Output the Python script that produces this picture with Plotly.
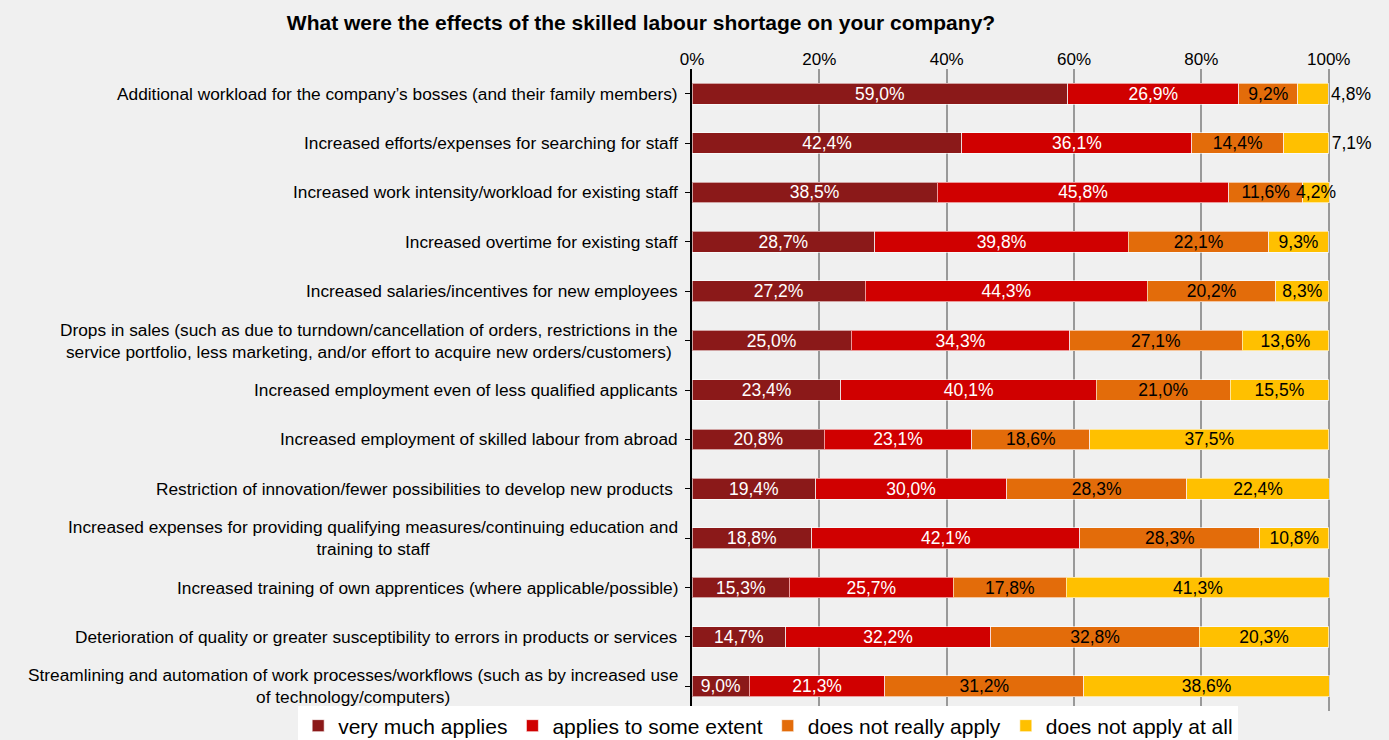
import plotly.graph_objects as go

categories = [
    "Additional workload for the company\u2019s bosses (and their family members)",
    "Increased efforts/expenses for searching for staff",
    "Increased work intensity/workload for existing staff",
    "Increased overtime for existing staff",
    "Increased salaries/incentives for new employees",
    "Drops in sales (such as due to turndown/cancellation of orders, restrictions in the<br>service portfolio, less marketing, and/or effort to acquire new orders/customers)",
    "Increased employment even of less qualified applicants",
    "Increased employment of skilled labour from abroad",
    "Restriction of innovation/fewer possibilities to develop new products ",
    "Increased expenses for providing qualifying measures/continuing education and<br>training to staff",
    "Increased training of own apprentices (where applicable/possible)",
    "Deterioration of quality or greater susceptibility to errors in products or services",
    "Streamlining and automation of work processes/workflows (such as by increased use<br>of technology/computers)",
]

very_much = [59.0, 42.4, 38.5, 28.7, 27.2, 25.0, 23.4, 20.8, 19.4, 18.8, 15.3, 14.7, 9.0]
some_extent = [26.9, 36.1, 45.8, 39.8, 44.3, 34.3, 40.1, 23.1, 30.0, 42.1, 25.7, 32.2, 21.3]
not_really = [9.2, 14.4, 11.6, 22.1, 20.2, 27.1, 21.0, 18.6, 28.3, 28.3, 17.8, 32.8, 31.2]
not_at_all = [4.8, 7.1, 4.2, 9.3, 8.3, 13.6, 15.5, 37.5, 22.4, 10.8, 41.3, 20.3, 38.6]

series_names = ["very much applies", "applies to some extent", "does not really apply", "does not apply at all"]
series_values = [very_much, some_extent, not_really, not_at_all]
colors = ["#8B1919", "#D00000", "#E36C0A", "#FFC000"]
text_colors = ["white", "white", "black", "black"]

tick_values = [0, 20, 40, 60, 80, 100]
tick_labels = ["0%", "20%", "40%", "60%", "80%", "100%"]

FONT = "Liberation Sans, Arial, sans-serif"
X_MAX = 100.2

fig = go.Figure()
ids = list(range(len(categories)))
for k, (name, vals, col, tcol) in enumerate(zip(series_names, series_values, colors, text_colors)):
    if k == len(series_names) - 1:
        tpos = ["outside" if i < 2 else "inside" for i, v in enumerate(vals)]
    else:
        tpos = "inside"
    fig.add_trace(go.Bar(
        y=ids, x=vals, name=name, orientation="h",
        marker=dict(color=col, line=dict(color="rgba(255,255,255,0.6)", width=1)),
        width=0.42,
        texttemplate="%{x:.1f}%", textposition=tpos, insidetextanchor="middle",
        textangle=0, constraintext="none", cliponaxis=False,
        textfont=dict(color=tcol, size=17.5, family=FONT),
        hoverinfo="skip",
    ))

for i, c in enumerate(categories):
    fig.add_annotation(
        x=0, xref="paper", y=i, yref="y", text=c, showarrow=False,
        xanchor="right", align="center", xshift=-12,
        font=dict(size=17.3, color="#000000", family=FONT),
    )

plot_left = 692
plot_w = 637 * X_MAX / 100
plot_top, plot_bottom = 69, 711
plot_h = plot_bottom - plot_top

fig.update_layout(
    barmode="stack",
    width=1389, height=740,
    margin=dict(l=plot_left, r=1389 - plot_left - plot_w, t=plot_top, b=740 - plot_bottom, autoexpand=False),
    paper_bgcolor="#F0F0F0", plot_bgcolor="#F0F0F0",
    separators=",.",
    title=dict(text="<b>What were the effects of the skilled labour shortage on your company?</b>",
               x=641 / 1389, xanchor="center", xref="container", y=0.970, yanchor="middle", yref="container",
               font=dict(size=21, color="#000000", family=FONT)),
    font=dict(family=FONT, color="#000000"),
    legend=dict(orientation="h", xref="paper", yref="paper",
                x=(298 - plot_left) / plot_w, xanchor="left",
                y=-(726 - plot_bottom) / plot_h, yanchor="middle",
                bgcolor="#FFFFFF", font=dict(size=21, family=FONT, color="#000000"),
                itemwidth=30, tracegroupgap=0, traceorder="normal"),
    showlegend=True,
)
fig.update_xaxes(side="top", range=[0, X_MAX], tickmode="array", tickvals=tick_values, ticktext=tick_labels,
                 showgrid=True, gridcolor="#999999", gridwidth=1.5,
                 zeroline=False, showline=False, ticks="",
                 tickfont=dict(size=17, family=FONT, color="#000000"))
fig.update_yaxes(range=[12.5, -0.5], tickvals=ids, showticklabels=False,
                 tickson="boundaries", ticks="outside", ticklen=5, tickcolor="#000000",
                 showline=True, linecolor="#000000", linewidth=1.5, showgrid=False, zeroline=False)

fig.write_html("out.html")
